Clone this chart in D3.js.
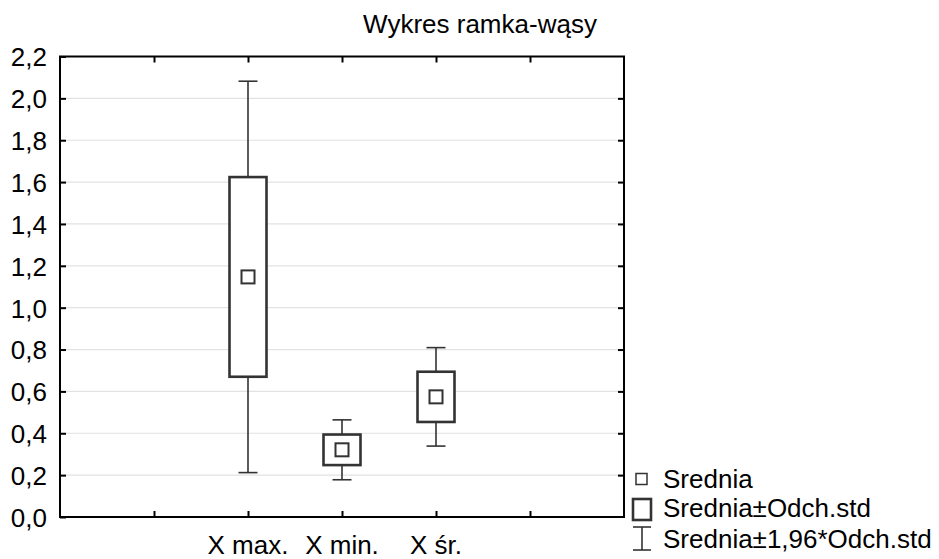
<!DOCTYPE html>
<html>
<head>
<meta charset="utf-8">
<script src="https://cdn.jsdelivr.net/npm/d3@7/dist/d3.min.js"></script>
<style>
  html, body { margin: 0; padding: 0; background: #fff; }
  svg { display: block; font-family: "Liberation Sans", Arial, sans-serif; }
</style>
</head>
<body>
<svg id="chart" width="939" height="559"></svg>
<script>
// Variables and their summary statistics
const categories = ["X max.", "X min.", "X śr."];
const means = [1.147, 0.321, 0.574];
const stdDevs = [0.477, 0.073, 0.120];
const yTickValues = [0, 0.2, 0.4, 0.6, 0.8, 1.0, 1.2, 1.4, 1.6, 1.8, 2.0, 2.2];
const xTickSlots = [1, 2, 3, 4, 5];
const categorySlots = [2, 3, 4];
const legendLabels = ["Srednia", "Srednia±Odch.std", "Srednia±1,96*Odch.std"];

const FONT = "26px";
const svg = d3.select("#chart");
const plot = { left: 60, right: 624, top: 56.5, bottom: 517 };

const x = d3.scaleLinear().domain([0, 6]).range([plot.left, plot.right]);
const y = d3.scaleLinear().domain([0, 2.2]).range([plot.bottom, plot.top]);
const fmt = d => d3.format(".1f")(d).replace(".", ",");

// Horizontal grid
svg.append("g")
  .selectAll("line")
  .data(yTickValues.filter(v => v > 0 && v < 2.2))
  .join("line")
  .attr("x1", plot.left).attr("x2", plot.right)
  .attr("y1", d => y(d)).attr("y2", d => y(d))
  .attr("stroke", "#e2e2e2").attr("stroke-width", 1.2);

// Axes with inward ticks
const axisStyle = g => {
  g.select(".domain").remove();
  g.selectAll(".tick line").attr("stroke", "#000").attr("stroke-width", 2);
  g.selectAll("text").attr("fill", "#000").attr("font-size", FONT);
};

svg.append("g")
  .attr("transform", `translate(${plot.left},0)`)
  .call(d3.axisLeft(y).tickValues(yTickValues).tickFormat(fmt).tickSizeInner(-6).tickSizeOuter(0).tickPadding(13))
  .call(axisStyle)
  .call(g => g.selectAll("text").attr("dy", "0.36em"));

svg.append("g")
  .attr("transform", `translate(${plot.right},0)`)
  .call(d3.axisRight(y).tickValues(yTickValues.slice(1, -1)).tickSizeInner(-6).tickSizeOuter(0).tickFormat(""))
  .call(axisStyle);

svg.append("g")
  .attr("transform", `translate(0,${plot.bottom})`)
  .call(d3.axisBottom(x).tickValues(xTickSlots).tickSizeInner(-6).tickSizeOuter(0).tickFormat(""))
  .call(axisStyle);

svg.append("g")
  .attr("transform", `translate(0,${plot.top})`)
  .call(d3.axisTop(x).tickValues(xTickSlots).tickSizeInner(-6).tickSizeOuter(0).tickFormat(""))
  .call(axisStyle);

// Category labels
svg.append("g")
  .selectAll("text")
  .data(categories)
  .join("text")
  .attr("x", (d, i) => x(categorySlots[i]))
  .attr("y", 554)
  .attr("text-anchor", "middle")
  .attr("font-size", FONT)
  .text(d => d);

// Box-whisker marks
const boxW = 37, capW = 19, meanW = 13;
const stats = categories.map((c, i) => ({
  cx: x(categorySlots[i]),
  mean: means[i],
  sd: stdDevs[i]
}));

const marks = svg.append("g");
stats.forEach(s => {
  const wTop = s.mean + 1.96 * s.sd, wBot = s.mean - 1.96 * s.sd;
  const bTop = s.mean + s.sd, bBot = s.mean - s.sd;
  const g = marks.append("g").attr("stroke", "#333").attr("fill", "none");
  // whiskers
  g.append("line").attr("x1", s.cx).attr("x2", s.cx).attr("y1", y(wTop)).attr("y2", y(bTop)).attr("stroke-width", 1.6);
  g.append("line").attr("x1", s.cx).attr("x2", s.cx).attr("y1", y(bBot)).attr("y2", y(wBot)).attr("stroke-width", 1.6);
  g.append("line").attr("x1", s.cx - capW / 2).attr("x2", s.cx + capW / 2).attr("y1", y(wTop)).attr("y2", y(wTop)).attr("stroke-width", 1.6);
  g.append("line").attr("x1", s.cx - capW / 2).attr("x2", s.cx + capW / 2).attr("y1", y(wBot)).attr("y2", y(wBot)).attr("stroke-width", 1.6);
  // box
  g.append("rect")
    .attr("x", s.cx - boxW / 2).attr("width", boxW)
    .attr("y", y(bTop)).attr("height", y(bBot) - y(bTop))
    .attr("fill", "#fff").attr("stroke-width", 2.6);
  // mean
  g.append("rect")
    .attr("x", s.cx - meanW / 2).attr("width", meanW)
    .attr("y", y(s.mean) - meanW / 2).attr("height", meanW)
    .attr("stroke-width", 2);
});

// Plot frame
svg.append("rect")
  .attr("x", plot.left).attr("y", plot.top)
  .attr("width", plot.right - plot.left).attr("height", plot.bottom - plot.top)
  .attr("fill", "none").attr("stroke", "#000").attr("stroke-width", 2);

// Title
svg.append("text")
  .attr("x", 480).attr("y", 33)
  .attr("text-anchor", "middle")
  .attr("font-size", FONT)
  .text("Wykres ramka-wąsy");

// Legend
const legend = svg.append("g");
const lx = 663, lys = [488, 517, 548];
legend.selectAll("text")
  .data(legendLabels)
  .join("text")
  .attr("x", lx).attr("y", (d, i) => lys[i])
  .attr("font-size", FONT)
  .text(d => d);

legend.append("rect")
  .attr("x", 636).attr("y", 473.5).attr("width", 11).attr("height", 11)
  .attr("fill", "none").attr("stroke", "#333").attr("stroke-width", 1.5);
legend.append("rect")
  .attr("x", 633).attr("y", 499).attr("width", 18).attr("height", 21)
  .attr("fill", "none").attr("stroke", "#333").attr("stroke-width", 2.6);
const wl = legend.append("g").attr("stroke", "#333").attr("stroke-width", 1.6);
wl.append("line").attr("x1", 642).attr("x2", 642).attr("y1", 527).attr("y2", 550);
wl.append("line").attr("x1", 633).attr("x2", 651).attr("y1", 527).attr("y2", 527);
wl.append("line").attr("x1", 633).attr("x2", 651).attr("y1", 550).attr("y2", 550);
</script>
</body>
</html>
